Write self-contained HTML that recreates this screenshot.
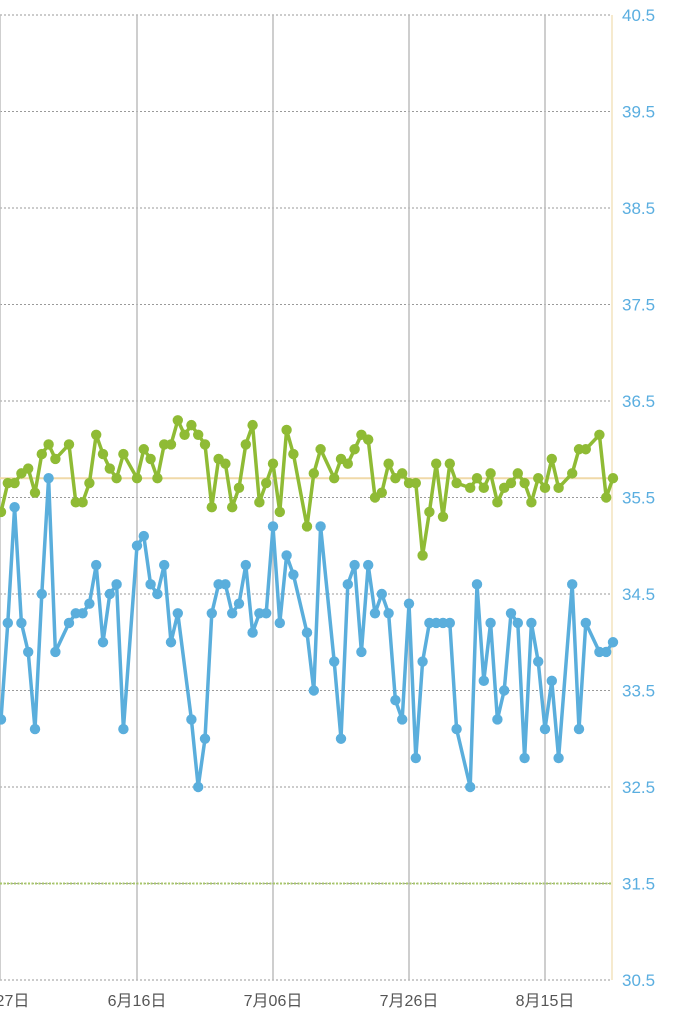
<!DOCTYPE html>
<html><head><meta charset="utf-8"><style>
html,body{margin:0;padding:0;background:#fff;}
svg{display:block;font-family:"Liberation Sans","Noto Sans CJK JP",sans-serif;}
</style></head><body>
<svg id="chart" width="674" height="1024" viewBox="0 0 674 1024" xmlns="http://www.w3.org/2000/svg"></svg>
<script>
const yTicks=[40.5,39.5,38.5,37.5,36.5,35.5,34.5,33.5,32.5,31.5,30.5];
const xTickDays=[-0.15,20,40,60,80];
const xTickLabels=["5月27日","6月16日","7月06日","7月26日","8月15日"];
const greenDays=[0,1,2,3,4,5,6,7,8,10,11,12,13,14,15,16,17,18,20,21,22,23,24,25,26,27,28,29,30,31,32,33,34,35,36,37,38,39,40,41,42,43,45,46,47,49,50,51,52,53,54,55,56,57,58,59,60,61,62,63,64,65,66,67,69,70,71,72,73,74,75,76,77,78,79,80,81,82,84,85,86,88,89,90];
const greenValues=[35.35,35.65,35.65,35.75,35.8,35.55,35.95,36.05,35.9,36.05,35.45,35.45,35.65,36.15,35.95,35.8,35.7,35.95,35.7,36.0,35.9,35.7,36.05,36.05,36.3,36.15,36.25,36.15,36.05,35.4,35.9,35.85,35.4,35.6,36.05,36.25,35.45,35.65,35.85,35.35,36.2,35.95,35.2,35.75,36.0,35.7,35.9,35.85,36.0,36.15,36.1,35.5,35.55,35.85,35.7,35.75,35.65,35.65,34.9,35.35,35.85,35.3,35.85,35.65,35.6,35.7,35.6,35.75,35.45,35.6,35.65,35.75,35.65,35.45,35.7,35.6,35.9,35.6,35.75,36.0,36.0,36.15,35.5,35.7];
const blueDays=[0,1,2,3,4,5,6,7,8,10,11,12,13,14,15,16,17,18,20,21,22,23,24,25,26,28,29,30,31,32,33,34,35,36,37,38,39,40,41,42,43,45,46,47,49,50,51,52,53,54,55,56,57,58,59,60,61,62,63,64,65,66,67,69,70,71,72,73,74,75,76,77,78,79,80,81,82,84,85,86,88,89,90];
const blueValues=[33.2,34.2,35.4,34.2,33.9,33.1,34.5,35.7,33.9,34.2,34.3,34.3,34.4,34.8,34.0,34.5,34.6,33.1,35.0,35.1,34.6,34.5,34.8,34.0,34.3,33.2,32.5,33.0,34.3,34.6,34.6,34.3,34.4,34.8,34.1,34.3,34.3,35.2,34.2,34.9,34.7,34.1,33.5,35.2,33.8,33.0,34.6,34.8,33.9,34.8,34.3,34.5,34.3,33.4,33.2,34.4,32.8,33.8,34.2,34.2,34.2,34.2,33.1,32.5,34.6,33.6,34.2,33.2,33.5,34.3,34.2,32.8,34.2,33.8,33.1,33.6,32.8,34.6,33.1,34.2,33.9,33.9,34.0];
const averageValue=35.7;
const thresholdValue=31.5;

const NS="http://www.w3.org/2000/svg";
const svg=document.getElementById('chart');
const X=d=>1+d*6.8;
const Y=v=>15+(40.5-v)*96.5;
function mk(tag,attrs,parent){const e=document.createElementNS(NS,tag);for(const k in attrs)e.setAttribute(k,attrs[k]);(parent||svg).appendChild(e);return e;}

yTicks.forEach(t=>{
  const l=mk('line',{x1:0,x2:612,y1:Y(t),y2:Y(t),stroke:'#9a9a9a','stroke-width':1,'stroke-dasharray':'2,2'});
  
  
  const tx=mk('text',{x:622,y:Y(t)+6,fill:'#5aaee0','font-size':17});
  tx.textContent=t.toFixed(1);
  
  
});
xTickDays.forEach((d,i)=>{
  const l=mk('line',{x1:X(d),x2:X(d),y1:15,y2:980,stroke:'#bdbdbd','stroke-width':1.5});
  
  
  const tx=mk('text',{x:X(d),y:1006,fill:'#555','font-size':16,'text-anchor':'middle'});
  tx.textContent=xTickLabels[i];
  
  
});
const edge=mk('line',{x1:612,x2:612,y1:15,y2:980,stroke:'#f3e3bd','stroke-width':1.5});


const th=mk('line',{x1:0,x2:612,y1:Y(thresholdValue),y2:Y(thresholdValue),stroke:'#a8c76a','stroke-width':2,'stroke-dasharray':'2,1.5'});


const av=mk('line',{x1:0,x2:612,y1:Y(averageValue),y2:Y(averageValue),stroke:'#f0d9a8','stroke-width':2});



function series(days,vals,color,name){
  const g=mk('g',{});
  
  
  const pts=days.map((d,i)=>X(d)+','+Y(vals[i])).join(' ');
  const pl=mk('polyline',{points:pts,fill:'none',stroke:color,'stroke-width':3.5,'stroke-linejoin':'round'},g);
  
  
  days.forEach((d,i)=>{
    const c=mk('circle',{cx:X(d),cy:Y(vals[i]),r:5.2,fill:color},g);
    
    
  });
}
series(greenDays,greenValues,'#8fbb35','green');
series(blueDays,blueValues,'#5aaedc','blue');
</script>
</body></html>
